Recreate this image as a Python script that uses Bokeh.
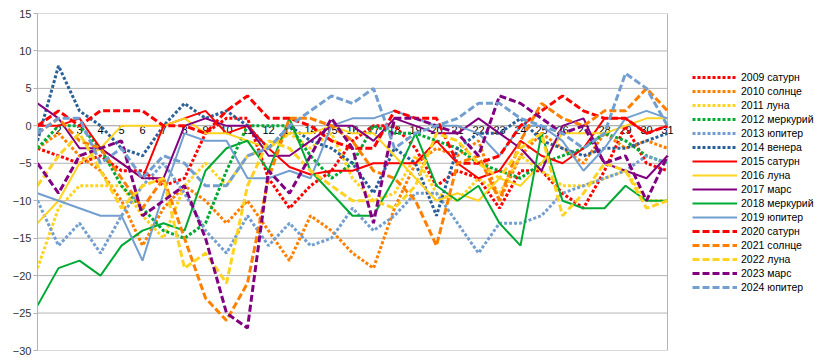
from bokeh.plotting import figure
from bokeh.models import Range1d, FixedTicker, Legend, LegendItem, LinearAxis
from bokeh.embed import file_html
from bokeh.resources import INLINE

days = list(range(1, 32))
day_labels = [str(d) for d in days]
y_ticks = [15, 10, 5, 0, -5, -10, -15, -20, -25, -30]

names = ["2009 сатурн", "2010 солнце", "2011 луна", "2012 меркурий", "2013 юпитер",
         "2014 венера", "2015 сатурн", "2016 луна", "2017 марс", "2018 меркурий",
         "2019 юпитер", "2020 сатурн", "2021 солнце", "2022 луна", "2023 марс",
         "2024 юпитер"]

s2009 = [-3, -4, -5, -4, -6, -6, -8, -7, -1, 1, 1, -7, -11, -8, -6, -2, 0, 0, -3, -8, -6, -7, -11, -6, -6, -9, -11, -6, 0, -5, -6]
s2010 = [-3, -1, -4, -6, -10, -16, -11, -8, -10, -13, -10, -14, -18, -12, -14, -17, -19, -11, -5, -3, -4, -2, -10, -4, -1, -3, -5, -1, -3, -2, -3]
s2011 = [-19, -11, -8, -8, -8, -12, -15, -8, -5, -8, -4, -3, -1, -3, -1, -7, -10, -9, -4, -9, -10, -7, -9, -4, -6, -8, -8, -7, -6, -10, -10]
s2012 = [-3, 0, 0, -3, -8, -11, -14, -15, -13, -6, 0, 0, 0, -4, -7, -5, 0, -1, -1, -2, -3, -5, -6, -7, -5, -4, -3, -1, -2, -4, -5]
s2013 = [-10, -16, -13, -17, -12, -8, -5, -9, -14, -17, -12, -16, -13, -16, -15, -11, -14, -12, -9, -9, -13, -17, -13, -13, -12, -9, -8, -7, -6, -4, -5]
s2014 = [-2, 8, 2, 0, -3, -4, 0, 3, 1, 2, 0, -3, 0, -2, -3, -5, -9, -3, -5, -12, -3, -1, -1, 1, -2, -3, -4, -3, -3, -2, -1]
s2015 = [0, 0, 1, -3, -5, -7, 0, 1, 2, -1, 0, -3, -5.5, -6.5, -6, -6, -5, -5, -5, -2, -5, -7, -6, -2, -4, -5, -3, 1, 1, -1, 0]
s2016 = [-13, -10, -5, -3, 0, 0, 0, 1, -1, -1, -2, -3, -1, -1, 0, -1, -1, -4, -7, -10, -9, -10, -7, -8, -5, -1, -1, -1, 0, 1, 1]
s2017 = [3, 1, -3, -3, -5, -7, -7, 0, 1, 0, 0, -4, -4, -2, 0, 0, -2, 1, 0, -1, -1, 1, -1, -3, -6, 0, 1, -5, -6, -7, -4]
s2018 = [-24, -19, -18, -20, -16, -14, -13, -14, -6, -3, -2, -6, 1, -6, -9, -12, -12, -7, -1, -8, -10, -8, -13, -16, -1, -10, -11, -11, -8, -10, -10]
s2019 = [-9, -10, -11, -12, -12, -18, -9, -1, -2, -2, -7, -7, -6, -7, 0, 1, 1, 2, 1, 0, 0, -1, -4, 0, 0, -2, -6, -3, 1, 2, 1]
s2020 = [0, 2, 0, 2, 2, 2, 0, 0, -1, 2, 4, 1, 1, 0, -2, -3, -3, 2, 1, 1, -5, -5, -4, 0, 2, 4, 2, 1, 1, -1, 0]
s2021 = [-1, 1, -2, -3, -7, -11, -7, -15, -23, -26, -21, -7, 1, 1, 0, -2, -6, -7, -10, -16, -5, -4, -10, -2, 3, 1, 0, 2, 2, 5, 2]
s2022 = [-8, -4, -1, -6, -11, -8, -7, -19, -17, -21, -8, -2, -3, -6, -8, -10, -10, -11, -8, -1, -2, -5, -7, -3, -1, -12, -9, -5, -6, -11, -10]
s2023 = [-5, -9, -4, -3, -2, -12, -10, -8, -15, -25, -27, -6, -9, -4, 1, -3, -13, 1, 1, 0, -1, -4, 4, 3, 1, -1, 0, -5, -4, -10, -4]
s2024 = [-1, 1, 1, -5, -3, -7, -4, -5, -8, -8, -4, -3, 0, 2, 4, 3, 5, -3, -1, 0, 1, 3, 3, 1, 0, -1, -3, -1, 7, 5, 0]

values = [s2009, s2010, s2011, s2012, s2013, s2014, s2015, s2016, s2017, s2018,
          s2019, s2020, s2021, s2022, s2023, s2024]

RED, ORANGE, YELLOW, GREEN = "#ff0000", "#ff8000", "#ffd320", "#00a933"
LBLUE, DBLUE, PURPLE = "#729fcf", "#2a6099", "#800080"
colors = [RED, ORANGE, YELLOW, GREEN, LBLUE, DBLUE, RED, YELLOW, PURPLE, GREEN,
          LBLUE, RED, ORANGE, YELLOW, PURPLE, LBLUE]
styles = ["dot"] * 6 + ["solid"] * 5 + ["dash"] * 5

GRID = "#b3b3b3"
FONT = "Liberation Sans"

# frame: x=1 at px 37, x=31 at px 667 -> 21 px per day; frame extends to px 815
W, LEFT = 815, 37
x_end = 31 + (W - LEFT - 630) / 21.0

p = figure(width=W, height=360, output_backend="svg", toolbar_location=None,
           x_range=Range1d(1, x_end), y_range=Range1d(-30, 15),
           x_axis_location=None, y_axis_location="left",
           min_border_left=LEFT, min_border_right=0, min_border_top=13,
           min_border_bottom=10)
p.outline_line_color = None
p.background_fill_color = "white"
p.xgrid.grid_line_color = None
p.ygrid.grid_line_color = None

# horizontal gridlines and right wall edge, limited to the category span
p.segment(x0=[days[0]] * len(y_ticks), y0=y_ticks, x1=[days[-1]] * len(y_ticks),
          y1=y_ticks, line_color=GRID, line_width=1)
p.segment(x0=[days[-1]], y0=[y_ticks[-1]], x1=[days[-1]], y1=[y_ticks[0]],
          line_color=GRID, line_width=1)

p.yaxis.ticker = FixedTicker(ticks=y_ticks)
p.yaxis.axis_line_color = GRID
p.yaxis.major_tick_line_color = GRID
p.yaxis.major_tick_out = 4
p.yaxis.major_tick_in = 0
p.yaxis.minor_tick_line_color = None
p.yaxis.major_label_standoff = 2
p.yaxis.major_label_text_font = FONT
p.yaxis.major_label_text_font_size = "11px"
p.yaxis.major_label_text_color = "#333333"

xaxis = LinearAxis(ticker=FixedTicker(ticks=days), fixed_location=0,
                   bounds=(days[0], days[-1]))
xaxis.major_label_overrides = {d: lab for d, lab in zip(days, day_labels)}
xaxis.axis_line_color = GRID
xaxis.major_tick_line_color = None
xaxis.minor_tick_line_color = None
xaxis.major_tick_out = 0
xaxis.major_tick_in = 0
xaxis.major_label_standoff = 0
xaxis.major_label_text_font = FONT
xaxis.major_label_text_font_size = "11px"
xaxis.major_label_text_color = "#000000"
xaxis.level = "underlay"
p.add_layout(xaxis, "below")

items = []
for name, vals, col, sty in zip(names, values, colors, styles):
    if sty == "dot":
        r = p.line(days, vals, line_color=col, line_width=3, line_dash="3 2")
    elif sty == "dash":
        r = p.line(days, vals, line_color=col, line_width=3, line_dash="7 3")
    else:
        r = p.line(days, vals, line_color=col, line_width=2)
    items.append(LegendItem(label=name, renderers=[r]))

legend = Legend(items=items, location=(655, 56))
legend.padding = 0
legend.margin = 0
legend.spacing = 0
legend.glyph_width = 45
legend.glyph_height = 14
legend.label_height = 14
legend.label_standoff = 4
legend.label_text_font = FONT
legend.label_text_font_size = "10.5px"
legend.label_text_color = "#000000"
legend.border_line_color = None
legend.background_fill_alpha = 0
p.add_layout(legend, "center")

open("out.html", "w").write(file_html(p, INLINE))
